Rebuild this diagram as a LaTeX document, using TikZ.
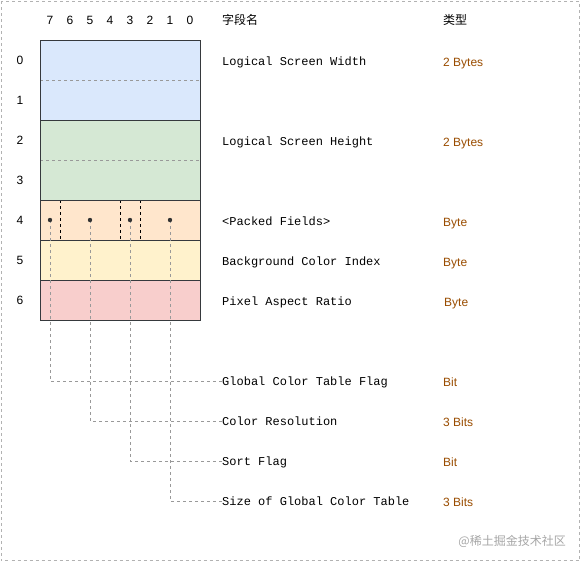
\documentclass[tikz,border=0pt]{standalone}
\usepackage{fontspec}
\setmainfont{Liberation Sans}
\setmonofont{Liberation Mono}
\newfontfamily\cjk{Noto Sans CJK SC}
\definecolor{cblue}{HTML}{DAE8FC}
\definecolor{cgreen}{HTML}{D5E8D4}
\definecolor{corange}{HTML}{FFE6CC}
\definecolor{cyellow}{HTML}{FFF2CC}
\definecolor{cpink}{HTML}{F8CECC}
\definecolor{ctype}{HTML}{994C00}
\definecolor{cedge}{HTML}{36393D}
\definecolor{clead}{HTML}{999999}
\begin{document}
\begin{tikzpicture}[x=1pt,y=-1pt,
  txt/.style={inner sep=0pt,font=\fontsize{12}{14}\selectfont},
  fname/.style={inner sep=0pt,anchor=west,text height=8.6pt,text depth=0pt,font=\ttfamily\fontsize{12}{14}\selectfont},
  ftype/.style={inner sep=0pt,anchor=west,text height=8.6pt,text depth=0pt,text=ctype,font=\fontsize{12}{14}\selectfont},
  cell/.style={draw=cedge,line width=0.8pt},
  divider/.style={draw=clead,dashed,line width=0.6pt},
  bitsep/.style={draw=black,dashed,line width=0.7pt},
  lead/.style={draw=clead,dashed,line width=0.6pt},
  dotn/.style={circle,inner sep=0pt,minimum size=4pt}]
\useasboundingbox (0,0) rectangle (581,562);
\draw[draw=black!30,dashed,line width=0.6pt] (1,1) rectangle (579.5,560.5);
% rows
\fill[cblue] (40,40) rectangle (200,120);
\fill[cgreen] (40,120) rectangle (200,200);
\fill[corange] (40,200) rectangle (200,240);
\fill[cyellow] (40,240) rectangle (200,280);
\fill[cpink] (40,280) rectangle (200,320);
\draw[divider] (40,80) -- (200,80);
\draw[divider] (40,160) -- (200,160);
\draw[bitsep] (60,200) -- (60,240);
\draw[bitsep] (120,200) -- (120,240);
\draw[bitsep] (140,200) -- (140,240);
\draw[cell] (40,120) -- (200,120);
\draw[cell] (40,200) -- (200,200);
\draw[cell] (40,240) -- (200,240);
\draw[cell] (40,280) -- (200,280);
\draw[cell] (40,40) rectangle (200,320);
% bit numbers
\foreach \b [count=\i from 0] in {7,6,5,4,3,2,1,0}
  \node[txt] (bit\b) at ({50+20*\i},20) {\b};
% row numbers
\foreach \r in {0,...,6}
  \node[txt] (row\r) at (20,{60+40*\r}) {\r};
% headers
\node[txt,anchor=west] (hname) at (222,20) {\cjk 字段名};
\node[txt,anchor=west] (htype) at (443,20) {\cjk 类型};
% field names
\node[fname] (lsw) at (222,61) {Logical Screen Width};
\node[fname] (lsh) at (222,141) {Logical Screen Height};
\node[fname] (pf) at (222,221) {<Packed Fields>};
\node[fname] (bci) at (222,261) {Background Color Index};
\node[fname] (par) at (222,301) {Pixel Aspect Ratio};
\node[fname] (gctf) at (222,381) {Global Color Table Flag};
\node[fname] (cr) at (222,421) {Color Resolution};
\node[fname] (sf) at (222,461) {Sort Flag};
\node[fname] (sgct) at (222,501) {Size of Global Color Table};
% types
\node[ftype] (tlsw) at (443,62) {2 Bytes};
\node[ftype] (tlsh) at (443,142) {2 Bytes};
\node[ftype] (tpf) at (443,222) {Byte};
\node[ftype] (tbci) at (443,262) {Byte};
\node[ftype] (tpar) at (444,302) {Byte};
\node[ftype] (tgctf) at (443,382) {Bit};
\node[ftype] (tcr) at (443,422) {3 Bits};
\node[ftype] (tsf) at (443,462) {Bit};
\node[ftype] (tsgct) at (443,502) {3 Bits};
% dots and leaders
\node[dotn] (d1) at (50,220) {};
\node[dotn] (d2) at (90,220) {};
\node[dotn] (d3) at (130,220) {};
\node[dotn] (d4) at (170,220) {};
\draw[lead] (d1.center) |- (gctf.west);
\draw[lead] (d2.center) |- (cr.west);
\draw[lead] (d3.center) |- (sf.west);
\draw[lead] (d4.center) |- (sgct.west);
\foreach \d in {d1,d2,d3,d4}
  \fill[black!80] (\d.center) circle (2.2pt);
% watermark
\node[inner sep=0pt,anchor=east,text=black!35,font=\cjk\fontsize{12}{14}\selectfont] (wm) at (566,541) {@稀土掘金技术社区};
\end{tikzpicture}
\end{document}
